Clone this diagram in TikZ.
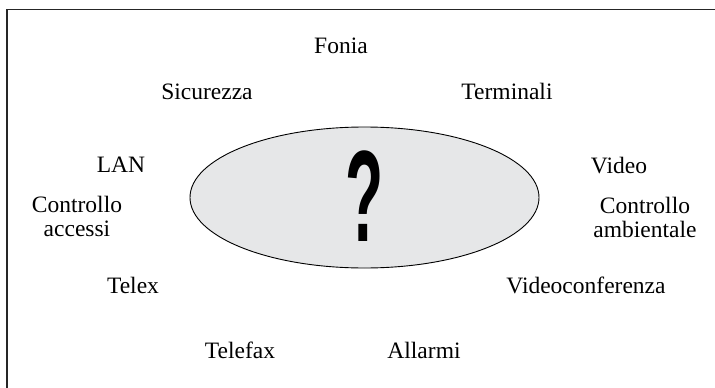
\documentclass[tikz,border=0pt]{standalone}
\usepackage{fontspec}
\usetikzlibrary{shapes.geometric}
\setmainfont{Liberation Serif}
\newfontfamily\qfont{Liberation Sans}
\definecolor{ellfill}{HTML}{E6E7E8}
\begin{document}
\begin{tikzpicture}[x=1pt,y=-1pt,
  lbl/.style={anchor=base,inner sep=0pt,align=center,font=\fontsize{23.5}{24}\selectfont}]
\useasboundingbox (0,0) rectangle (715,388);
\begin{scope}
\clip (0,0) rectangle (715,388);
\draw[line width=1.6pt,black!85] (7,9.5) rectangle (730,400);
\end{scope}
\node[ellipse,draw,line width=0.9pt,fill=ellfill,minimum width=349pt,minimum height=141pt,inner sep=0pt] (core) at (364.5,197.5) {};
\node[inner sep=0pt,anchor=center,xscale=0.48,font=\qfont\bfseries\fontsize{130}{130}\selectfont] (q) at (365,196) {?};
\node[lbl] (fonia) at (341,53) {Fonia};
\node[lbl] (sic) at (207,99) {Sicurezza};
\node[lbl] (term) at (507,99) {Terminali};
\node[lbl] (lan) at (121,172) {LAN};
\node[lbl] (video) at (619,173) {Video};
\node[lbl] (cacc) at (77,236) {Controllo\\accessi};
\node[lbl] (camb) at (645,237) {Controllo\\ambientale};
\node[lbl] (telex) at (133,293) {Telex};
\node[lbl] (vconf) at (586,293) {Videoconferenza};
\node[lbl] (tfax) at (240,358) {Telefax};
\node[lbl] (allarmi) at (424,358) {Allarmi};
\end{tikzpicture}
\end{document}
